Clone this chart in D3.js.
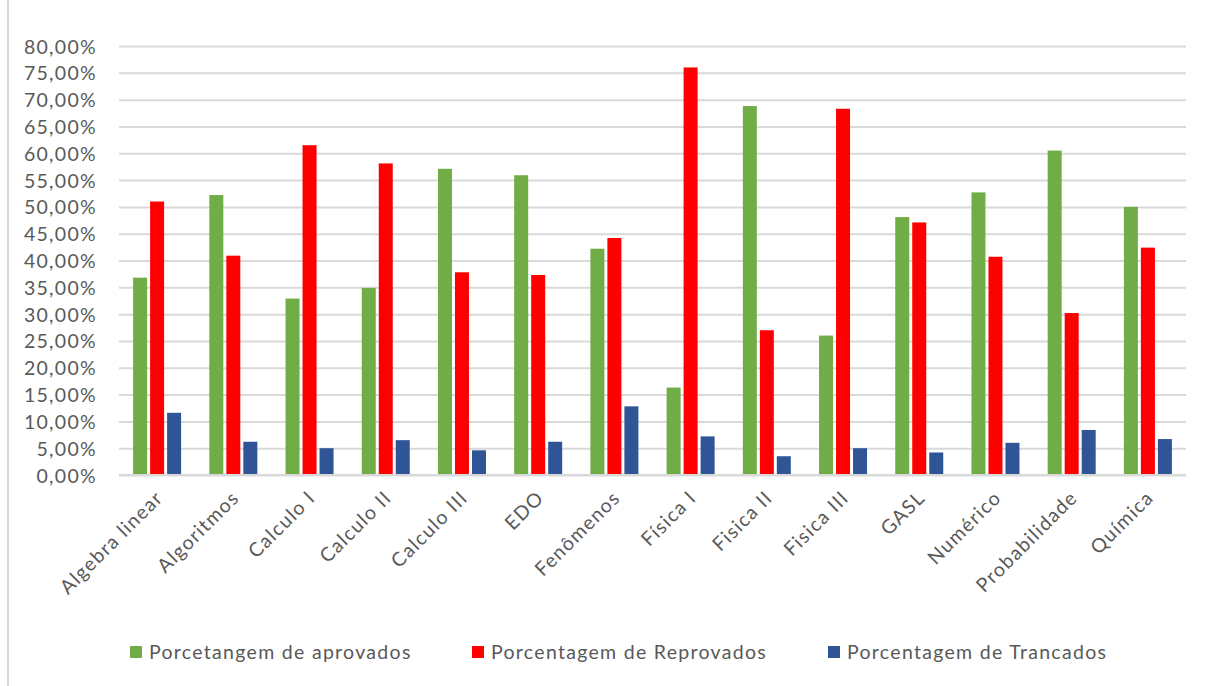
<!DOCTYPE html>
<html>
<head>
<meta charset="utf-8">
<script src="https://cdn.jsdelivr.net/npm/d3@7"></script>
<style>
  html, body { margin: 0; padding: 0; background: #ffffff; }
  svg { display: block; }
  .lbl { font-family: Lato, "Open Sans", sans-serif; fill: #595959; }
</style>
</head>
<body>
<svg id="chart" width="1206" height="686"></svg>
<script>
// Disciplinas
const categories = ["Algebra linear", "Algoritmos", "Calculo I", "Calculo II", "Calculo III", "EDO",
  "Fenômenos", "Física I", "Fisica II", "Fisica III", "GASL", "Numérico", "Probabilidade", "Química"];

// Percentuais por disciplina (fração de 1)
const aprovados   = [0.368, 0.522, 0.329, 0.349, 0.571, 0.559, 0.422, 0.163, 0.688, 0.260, 0.481, 0.527, 0.605, 0.500];
const reprovados  = [0.510, 0.409, 0.615, 0.581, 0.378, 0.373, 0.442, 0.760, 0.270, 0.683, 0.471, 0.407, 0.302, 0.424];
const trancados   = [0.116, 0.062, 0.050, 0.065, 0.046, 0.062, 0.128, 0.072, 0.035, 0.050, 0.042, 0.060, 0.084, 0.067];

const seriesNames = ["Porcetangem de aprovados", "Porcentagem de Reprovados", "Porcentagem de Trancados"];
const seriesColors = ["#70AD47", "#FF0000", "#2F5597"];
const yTicks = [0, 0.05, 0.10, 0.15, 0.20, 0.25, 0.30, 0.35, 0.40, 0.45, 0.50, 0.55, 0.60, 0.65, 0.70, 0.75, 0.80];

const series = [aprovados, reprovados, trancados];

const svg = d3.select("#chart");
const plot = { left: 119, right: 1186, top: 46, bottom: 475 };
const fontSize = 19.5, spacing = 1.3;

const ptBR = d3.formatLocale({ decimal: ",", thousands: ".", grouping: [3], currency: ["R$", ""] });
const fmt = ptBR.format(".2%");

const x = d3.scaleBand().domain(categories).range([plot.left, plot.right]).paddingInner(0).paddingOuter(0);
const y = d3.scaleLinear().domain([0, 0.8]).range([plot.bottom, plot.top]);

// Bars inside a band: three bars with a small gap between them
const barW = 14, barGap = 3;
const groupW = 3 * barW + 2 * barGap;
const xs = d3.scaleBand().domain(d3.range(3)).range([0, groupW]).paddingInner(barGap / (barW + barGap)).paddingOuter(0);

// Frame edge on the left
svg.append("line").attr("x1", 8).attr("x2", 8).attr("y1", 0).attr("y2", 686)
  .attr("stroke", "#d9d9d9").attr("stroke-width", 2);

// Horizontal gridlines and value labels
const yAxis = svg.append("g").attr("transform", `translate(${plot.left},0)`)
  .call(d3.axisLeft(y).tickValues(yTicks).tickFormat(fmt).tickSize(-(plot.right - plot.left)).tickPadding(22));
yAxis.select(".domain").remove();
yAxis.selectAll(".tick line").attr("stroke", "#d9d9d9").attr("stroke-width", 2);
yAxis.selectAll(".tick text").attr("class", "lbl").attr("font-size", fontSize).attr("letter-spacing", spacing)
  .attr("fill", "#595959").attr("dy", "0.36em");

// Bars
series.forEach((vals, si) => {
  svg.append("g").selectAll("rect").data(categories).join("rect")
    .attr("x", c => x(c) + (x.bandwidth() - groupW) / 2 + xs(si))
    .attr("width", xs.bandwidth())
    .attr("y", (c, i) => y(vals[i]))
    .attr("height", (c, i) => y(0) - y(vals[i]))
    .attr("fill", seriesColors[si]);
});

// Category axis line
svg.append("line").attr("x1", plot.left).attr("x2", plot.right).attr("y1", plot.bottom).attr("y2", plot.bottom)
  .attr("stroke", "#d9d9d9").attr("stroke-width", 2);

// Rotated category labels
const xAxis = svg.append("g").attr("transform", `translate(0,${plot.bottom})`)
  .call(d3.axisBottom(x).tickSize(0).tickPadding(0));
xAxis.select(".domain").remove();
xAxis.selectAll(".tick text")
  .attr("class", "lbl").attr("font-size", fontSize).attr("letter-spacing", spacing).attr("fill", "#595959")
  .attr("text-anchor", "end").attr("y", 0).attr("dy", 0)
  .attr("transform", "translate(7,24) rotate(-45)");

// Legend
const legendX = [130, 472, 828];
const legend = svg.append("g");
seriesNames.forEach((name, i) => {
  legend.append("rect").attr("x", legendX[i]).attr("y", 646).attr("width", 12).attr("height", 12)
    .attr("fill", seriesColors[i]);
  legend.append("text").attr("class", "lbl").attr("x", legendX[i] + 19).attr("y", 652).attr("dy", "0.36em")
    .attr("font-size", fontSize).attr("letter-spacing", spacing).text(name);
});
</script>
</body>
</html>
